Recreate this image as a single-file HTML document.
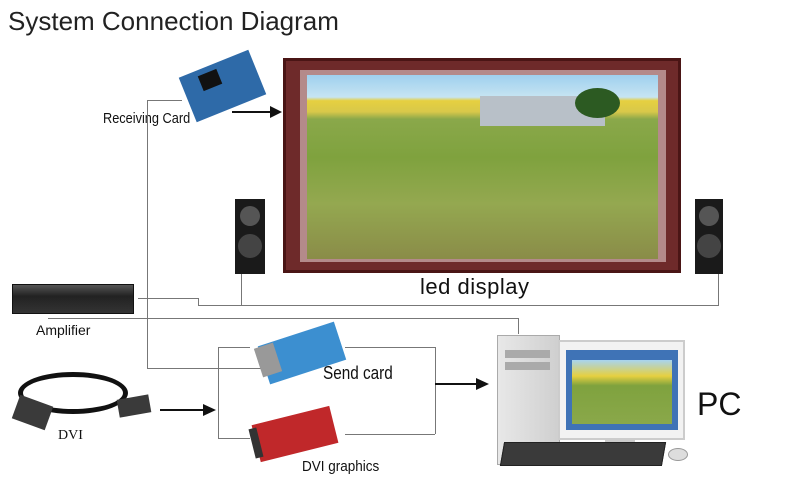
<!DOCTYPE html>
<html><head><style>
body{margin:0;width:800px;height:499px;background:#fff;position:relative;overflow:hidden;font-family:"Liberation Sans",sans-serif}
div{position:absolute;box-sizing:border-box}
.l{background:#777}
.t{white-space:nowrap;color:#111}
</style></head><body>
<div class="t" style="left:8px;top:6px;font-size:26px;color:#222">System Connection Diagram</div>

<!-- LED display -->
<div style="left:283px;top:58px;width:398px;height:215px;background:#6e2a2a;border:3px solid #4a1515"></div>
<div style="left:300px;top:70px;width:366px;height:192px;background:#b48a8a"></div>
<div style="left:307px;top:75px;width:351px;height:184px;background:linear-gradient(#9fd0ee 0%,#c6e4f2 12%,#e6d040 14%,#d8c84a 20%,#8aa84a 24%,#7fa23e 45%,#94a850 70%,#8a8c48 100%)"></div>
<div style="left:480px;top:96px;width:125px;height:30px;background:#b8c0c8"></div>
<div style="left:575px;top:88px;width:45px;height:30px;background:#2c5a22;border-radius:50%"></div>
<div class="t" style="left:420px;top:274px;font-size:22px;letter-spacing:0.5px">led display</div>

<!-- speakers -->
<div style="left:235px;top:199px;width:30px;height:75px;background:#1a1a1a"></div>
<div style="left:240px;top:206px;width:20px;height:20px;border-radius:50%;background:#555"></div>
<div style="left:238px;top:234px;width:24px;height:24px;border-radius:50%;background:#444"></div>
<div style="left:695px;top:199px;width:28px;height:75px;background:#1a1a1a"></div>
<div style="left:699px;top:206px;width:20px;height:20px;border-radius:50%;background:#555"></div>
<div style="left:697px;top:234px;width:24px;height:24px;border-radius:50%;background:#444"></div>

<!-- receiving card -->
<div style="left:185px;top:62px;width:75px;height:48px;background:#2e6aa8;transform:rotate(-22deg)"></div>
<div style="left:200px;top:72px;width:20px;height:16px;background:#111;transform:rotate(-22deg)"></div>
<div class="t" style="left:103px;top:110px;font-size:15px;transform:scaleX(.85);transform-origin:left">Receiving Card</div>
<div style="left:232px;top:111px;width:40px;height:2px;background:#111"></div>
<div style="left:270px;top:106px;border-left:12px solid #111;border-top:6px solid transparent;border-bottom:6px solid transparent"></div>

<!-- lines -->
<div class="l" style="left:147px;top:100px;width:1px;height:268px"></div>
<div class="l" style="left:147px;top:100px;width:35px;height:1px"></div>
<div class="l" style="left:147px;top:368px;width:133px;height:1px"></div>
<div class="l" style="left:138px;top:298px;width:60px;height:1px"></div>
<div class="l" style="left:198px;top:298px;width:1px;height:7px"></div>
<div class="l" style="left:198px;top:305px;width:521px;height:1px"></div>
<div class="l" style="left:241px;top:274px;width:1px;height:31px"></div>
<div class="l" style="left:718px;top:274px;width:1px;height:31px"></div>
<div class="l" style="left:48px;top:318px;width:470px;height:1px"></div>
<div class="l" style="left:518px;top:318px;width:1px;height:16px"></div>

<!-- amplifier -->
<div style="left:12px;top:284px;width:122px;height:30px;background:linear-gradient(#555,#222 40%,#333);border:1px solid #111"></div>
<div class="t" style="left:36px;top:322px;font-size:14px">Amplifier</div>

<!-- DVI cable -->
<div style="left:18px;top:372px;width:110px;height:42px;border:5px solid #111;border-radius:50%"></div>
<div style="left:15px;top:400px;width:35px;height:25px;background:#3a3a3a;transform:rotate(20deg)"></div>
<div style="left:118px;top:397px;width:32px;height:18px;background:#3a3a3a;transform:rotate(-10deg)"></div>
<div class="t" style="left:58px;top:428px;font-size:14px;font-family:'Liberation Serif',serif">DVI</div>
<div style="left:160px;top:409px;width:45px;height:2px;background:#111"></div>
<div style="left:203px;top:404px;border-left:13px solid #111;border-top:6px solid transparent;border-bottom:6px solid transparent"></div>

<!-- bracket -->
<div class="l" style="left:218px;top:347px;width:1px;height:91px"></div>
<div class="l" style="left:218px;top:347px;width:32px;height:1px"></div>
<div class="l" style="left:218px;top:438px;width:32px;height:1px"></div>
<div class="l" style="left:435px;top:347px;width:1px;height:87px"></div>
<div class="l" style="left:345px;top:347px;width:90px;height:1px"></div>
<div class="l" style="left:345px;top:434px;width:90px;height:1px"></div>
<div style="left:435px;top:383px;width:43px;height:2px;background:#111"></div>
<div style="left:476px;top:378px;border-left:13px solid #111;border-top:6px solid transparent;border-bottom:6px solid transparent"></div>

<!-- send card -->
<div style="left:262px;top:333px;width:80px;height:40px;background:#3c8fd0;transform:rotate(-18deg)"></div>
<div style="left:258px;top:345px;width:20px;height:30px;background:#999;transform:rotate(-18deg)"></div>
<div class="t" style="left:323px;top:363px;font-size:18px;transform:scaleX(.85);transform-origin:left">Send card</div>

<!-- DVI graphics -->
<div style="left:255px;top:415px;width:80px;height:38px;background:#c0282a;transform:rotate(-14deg)"></div>
<div style="left:252px;top:428px;width:8px;height:30px;background:#333;transform:rotate(-14deg)"></div>
<div class="t" style="left:302px;top:458px;font-size:15px;transform:scaleX(.9);transform-origin:left">DVI graphics</div>

<!-- PC -->
<div style="left:497px;top:335px;width:63px;height:130px;background:linear-gradient(90deg,#e8e8e8,#cfcfcf);border:1px solid #aaa"></div>
<div style="left:505px;top:350px;width:45px;height:8px;background:#aaa"></div>
<div style="left:505px;top:362px;width:45px;height:8px;background:#aaa"></div>
<div style="left:558px;top:340px;width:127px;height:100px;background:#f2f2f2;border:2px solid #ccc"></div>
<div style="left:566px;top:350px;width:112px;height:80px;background:#3f73b6"></div>
<div style="left:572px;top:360px;width:100px;height:64px;background:linear-gradient(#a8d4ef 0%,#e6d040 25%,#7fa23e 40%,#8aa84a 100%)"></div>
<div style="left:605px;top:440px;width:30px;height:10px;background:#ccc"></div>
<div style="left:502px;top:442px;width:162px;height:24px;background:#3a3a3a;transform:skewX(-10deg);border:1px solid #222"></div>
<div style="left:668px;top:448px;width:20px;height:13px;background:#ddd;border-radius:50%;border:1px solid #999"></div>
<div class="t" style="left:697px;top:386px;font-size:32px">PC</div>
</body></html>
